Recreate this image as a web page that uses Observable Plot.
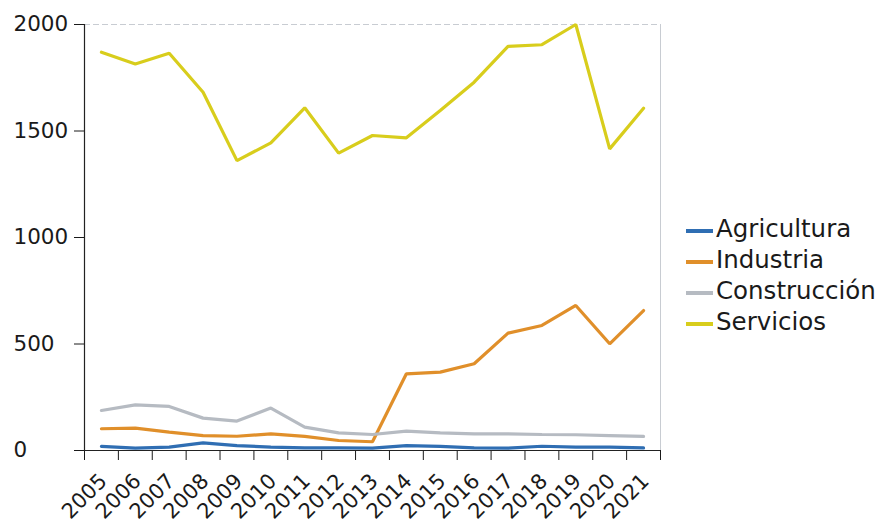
<!DOCTYPE html>
<html>
<head>
<meta charset="utf-8">
<script src="https://cdn.jsdelivr.net/npm/d3@7"></script>
<script src="https://cdn.jsdelivr.net/npm/@observablehq/plot@0.6"></script>
<style>
  html, body { margin: 0; padding: 0; background: #fff; }
  #wrap { position: relative; width: 880px; height: 526px; font-family: "DejaVu Sans", sans-serif; }
  #legend { position: absolute; left: 686px; top: 213px; font-size: 24.5px; color: #1a1a1a; }
  .item { display: flex; align-items: center; height: 31px; }
  .sw { width: 27px; height: 4px; margin-right: 3px; margin-top: 4px; }
</style>
</head>
<body>
<div id="wrap"><div id="chart"></div><div id="legend"></div></div>
<script>
const years = [2005,2006,2007,2008,2009,2010,2011,2012,2013,2014,2015,2016,2017,2018,2019,2020,2021];
const seriesNames = ["Agricultura", "Industria", "Construcción", "Servicios"];
const seriesColors = ["#2f6eb3", "#e08f2a", "#b6bbc2", "#d8cd1c"];
const agricultura = [19,11,16,36,23,16,12,12,11,23,19,12,11,20,16,16,12];
const industria = [102,105,86,70,67,78,66,47,41,360,368,407,551,587,681,501,657];
const construccion = [188,214,207,152,138,199,110,83,75,91,83,78,78,75,74,70,66];
const servicios = [1870,1815,1865,1682,1361,1444,1609,1396,1479,1468,1596,1729,1897,1905,2000,1416,1607];
const yTicks = [0, 500, 1000, 1500, 2000];

const valuesBySeries = [agricultura, industria, construccion, servicios];
const data = [];
seriesNames.forEach((s, k) => years.forEach((y, i) => data.push({serie: s, year: y, value: valuesBySeries[k][i]})));
const bandEdges = [years[0] - 0.5, ...years.map(y => y + 0.5)];

const chart = Plot.plot({
  width: 680,
  height: 526,
  marginLeft: 84,
  marginRight: 20,
  marginTop: 24,
  marginBottom: 76,
  style: {fontFamily: "'DejaVu Sans', sans-serif", color: "#1a1a1a", background: "#fff"},
  x: {domain: [bandEdges[0], bandEdges[bandEdges.length - 1]]},
  y: {domain: [0, 2000]},
  color: {domain: seriesNames, range: seriesColors},
  marks: [
    Plot.ruleY([2000], {stroke: "#c8ccd2", strokeDasharray: "6,3", strokeWidth: 1}),
    Plot.ruleX([bandEdges[bandEdges.length - 1]], {stroke: "#c8ccd2", strokeWidth: 1}),
    Plot.axisY({ticks: yTicks, tickSize: 10, tickFormat: () => "", label: null}),
    Plot.axisY({ticks: yTicks, tickSize: 0, tickPadding: 0, fontSize: 21.5, textAnchor: "start", dx: -71, label: null, tickFormat: d => String(d)}),
    Plot.ruleX([bandEdges[0]], {stroke: "#222", strokeWidth: 1.2, y1: 0, y2: 2000}),
    Plot.axisX({ticks: bandEdges, tickSize: 10, tickFormat: () => "", label: null}),
    Plot.axisX({ticks: years, tickSize: 0, tickPadding: 27, tickRotate: -45, fontSize: 21, dx: 2, label: null, tickFormat: d => String(d)}),
    Plot.ruleY([0], {stroke: "#222", strokeWidth: 1.2}),
    Plot.line(data, {x: "year", y: "value", stroke: "serie", z: "serie", strokeWidth: 3.2, strokeLinejoin: "miter", clip: false})
  ]
});
document.getElementById("chart").appendChild(chart);

const legend = document.getElementById("legend");
seriesNames.forEach((s, k) => {
  const it = document.createElement("div");
  it.className = "item";
  const sw = document.createElement("div");
  sw.className = "sw";
  sw.style.background = seriesColors[k];
  const tx = document.createElement("span");
  tx.textContent = s;
  it.appendChild(sw); it.appendChild(tx);
  legend.appendChild(it);
});
</script>
</body>
</html>
